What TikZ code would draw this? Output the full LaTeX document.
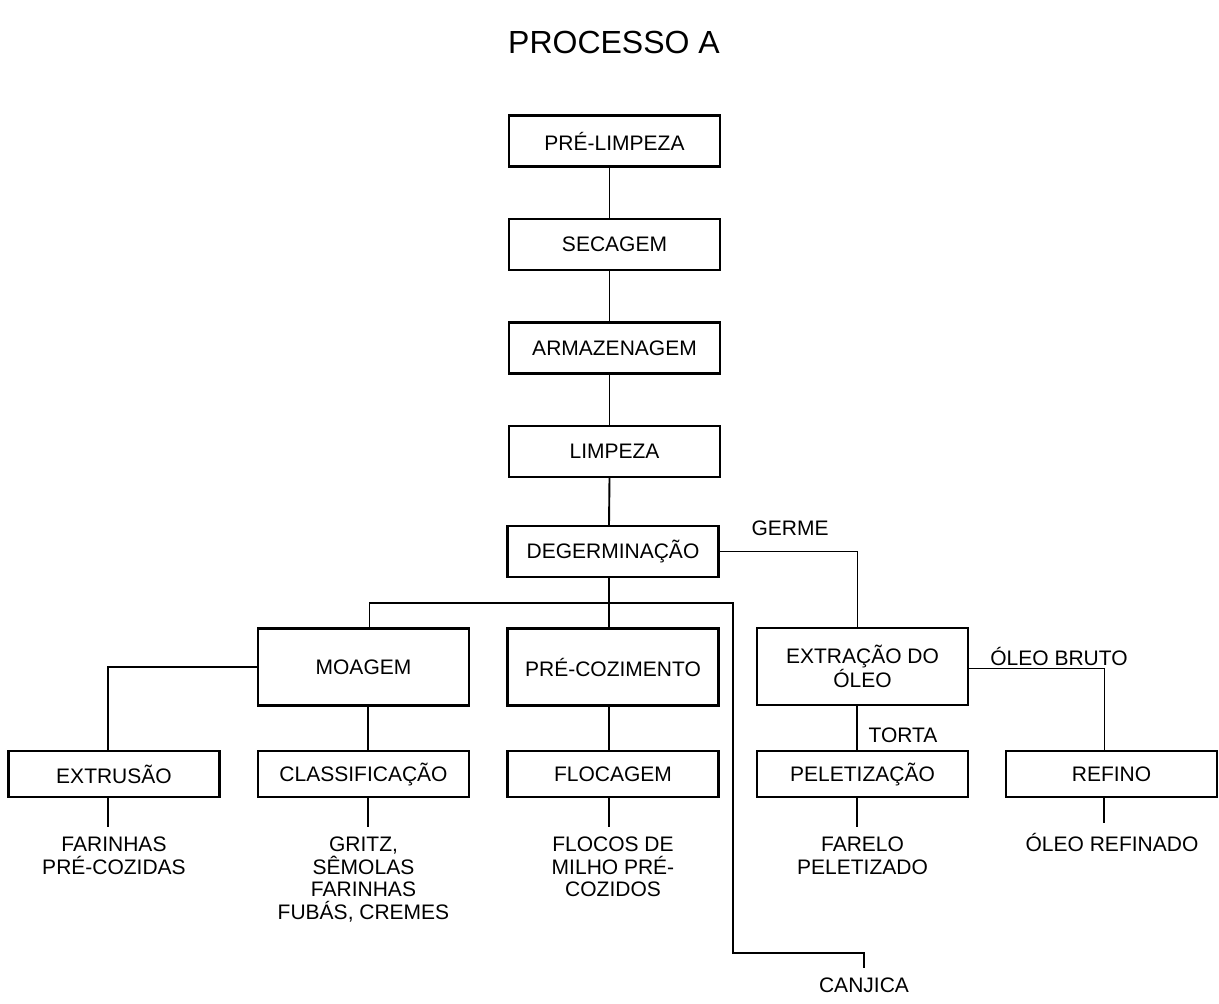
\documentclass[tikz,border=0pt]{standalone}
\usepackage{fontspec}
\setmainfont{Liberation Sans}
\begin{document}
\begin{tikzpicture}[x=1pt, y=-1pt,
    box/.style={draw, line width=2.2pt, minimum width=211pt, minimum height=51pt, inner sep=0pt, align=center, font=\fontsize{21}{22.6}\selectfont},
    tall/.style={box, minimum height=77pt},
    flat/.style={box, minimum height=46pt},
    product/.style={align=center, inner sep=0pt, outer sep=10pt, anchor=north, font=\fontsize{21}{22.6}\selectfont},
    tag/.style={inner sep=0pt, font=\fontsize{21}{22.6}\selectfont},
    link/.style={line width=1.9pt}]
    \useasboundingbox (0,0) rectangle (1219,1004);
    \node[inner sep=0pt, font=\fontsize{32}{36}\selectfont] (title) at (614,42) {PROCESSO A};

    % Main line
    \node[box] (prelimp) at (614.5,141) {PRÉ-LIMPEZA};
    \node[box] (secag) at (614.5,244.5) {SECAGEM};
    \node[box] (armaz) at (614.5,348) {ARMAZENAGEM};
    \node[box] (limp) at (614.5,451.5) {LIMPEZA};
    \node[box] (degerm) at (613,551.5) {DEGERMINAÇÃO};

    % Second row
    \node[tall] (moag) at (363.5,667) {MOAGEM};
    \node[tall] (precoz) at (613,667) {PRÉ-COZIMENTO};
    \node[tall] (extoleo) at (862.5,666.5) {EXTRAÇÃO DO\\ÓLEO};

    % Third row
    \node[flat] (extrus) at (114,774) {EXTRUSÃO};
    \node[flat] (classif) at (363.5,774) {CLASSIFICAÇÃO};
    \node[flat] (flocag) at (613,774) {FLOCAGEM};
    \node[flat] (pelet) at (862.5,774) {PELETIZAÇÃO};
    \node[flat] (refino) at (1111.5,774) {REFINO};

    % Products
    \node[product] (farpre) at (114,827) {FARINHAS\\PRÉ-COZIDAS};
    \node[product] (gritz) at (363.5,827) {GRITZ,\\SÊMOLAS\\FARINHAS\\FUBÁS, CREMES};
    \node[product] (flocos) at (613,827) {FLOCOS DE\\MILHO PRÉ-\\COZIDOS};
    \node[product] (farelo) at (862.5,827) {FARELO\\PELETIZADO};
    \node[product] (olref) at (1112,823) {ÓLEO REFINADO};
    \node[product] (canjica) at (864,968) {CANJICA};

    % Labels on the lines
    \node[tag] (germe) at (790,528) {GERME};
    \node[tag] (bruto) at (1059,656) {ÓLEO BRUTO};
    \node[tag] (torta) at (903,735) {TORTA};

    \coordinate (bend) at (733,603);
    \coordinate (elbow) at (733,953);

    \draw[link] ([xshift=-5pt]prelimp.south) -- ([xshift=-5pt]secag.north);
    \draw[link] ([xshift=-5pt]secag.south) -- ([xshift=-5pt]armaz.north);
    \draw[link] ([xshift=-5pt]armaz.south) -- ([xshift=-5pt]limp.north);
    \draw[link] ([xshift=-5pt]limp.south) -- ([xshift=-4pt]degerm.north);
    \draw[link] ([xshift=-4pt]degerm.south) -- ([xshift=-4pt]precoz.north);
    \draw[link] ([xshift=6pt]moag.north) |- (bend) -- (elbow) -| (canjica.north);
    \draw[link] (degerm.east) -| ([xshift=-5pt]extoleo.north);
    \draw[link] ([yshift=-2pt]extoleo.east) -| ([xshift=-7pt]refino.north);
    \draw[link] (moag.west) -| ([xshift=-6pt]extrus.north);
    \draw[link] ([xshift=4.5pt]moag.south) -- ([xshift=4.5pt]classif.north);
    \draw[link] ([xshift=-4pt]precoz.south) -- ([xshift=-4pt]flocag.north);
    \draw[link] ([xshift=-5.5pt]extoleo.south) -- ([xshift=-5.5pt]pelet.north);
    \draw[link] ([xshift=-6pt]extrus.south) -- ([xshift=-6pt]farpre.north);
    \draw[link] ([xshift=4.5pt]classif.south) -- ([xshift=4.5pt]gritz.north);
    \draw[link] ([xshift=-4pt]flocag.south) -- ([xshift=-4pt]flocos.north);
    \draw[link] ([xshift=-5.5pt]pelet.south) -- ([xshift=-5.5pt]farelo.north);
    \draw[link] ([xshift=-7.5pt]refino.south) -- ([xshift=-8pt]olref.north);
\end{tikzpicture}
\end{document}
